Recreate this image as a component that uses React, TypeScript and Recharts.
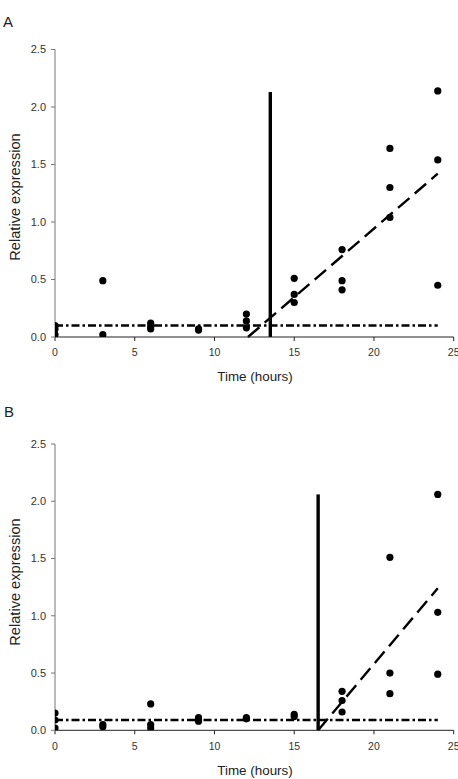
import React from 'react';
import { ComposedChart, Scatter, XAxis, YAxis, ReferenceLine } from 'recharts';

// Sampling times (hours)
const hours = [0, 3, 6, 9, 12, 15, 18, 21, 24];

// Replicate values per time point, panel A
const panelAValues: number[][] = [
  [0.1, 0.07, 0.02],
  [0.49, 0.02],
  [0.12, 0.09, 0.07],
  [0.07, 0.06],
  [0.2, 0.14, 0.08],
  [0.51, 0.37, 0.3],
  [0.76, 0.49, 0.41],
  [1.64, 1.3, 1.04],
  [2.14, 1.54, 0.45],
];

// Replicate values per time point, panel B
const panelBValues: number[][] = [
  [0.15, 0.09, 0.02],
  [0.05, 0.03],
  [0.23, 0.05, 0.02],
  [0.11, 0.09, 0.08],
  [0.11, 0.1],
  [0.14, 0.12],
  [0.34, 0.26, 0.16],
  [1.51, 0.5, 0.32],
  [2.06, 1.03, 0.49],
];

// Threshold (dash-dot), onset (solid vertical), trend (dashed)
const thresholdA = 0.1;
const onsetA = { x: 13.5, top: 2.13 };
const trendA = [
  { x: 12.1, y: 0 },
  { x: 24, y: 1.42 },
];

const thresholdB = 0.09;
const onsetB = { x: 16.5, top: 2.06 };
const trendB = [
  { x: 16.5, y: 0 },
  { x: 24, y: 1.24 },
];

const xTicks = [0, 5, 10, 15, 20, 25];
const yTicks = [0, 0.5, 1.0, 1.5, 2.0, 2.5];

const toPoints = (vals: number[][]) =>
  hours.flatMap((h, i) => vals[i].map((v) => ({ x: h, y: v })));

const Dot = (props: any) => {
  const { cx, cy } = props;
  if (cx == null || cy == null) return null;
  return <circle cx={cx} cy={cy} r={3.6} fill="#000" />;
};

type PanelProps = {
  values: number[][];
  threshold: number;
  onset: { x: number; top: number };
  trend: { x: number; y: number }[];
  marginTop: number;
  height: number;
  marginBottom: number;
};

const Panel = ({ values, threshold, onset, trend, marginTop, height, marginBottom }: PanelProps) => {
  const data = toPoints(values);
  return (
    <ComposedChart
      width={458}
      height={height}
      margin={{ top: marginTop, right: 4.3, left: 0, bottom: marginBottom }}
      style={{ fontFamily: '"Liberation Sans", Arial, sans-serif' }}
    >
      <XAxis
        type="number"
        dataKey="x"
        domain={[0, 25]}
        ticks={xTicks}
        height={30}
        tickSize={4}
        tickMargin={8}
        interval={0}
        axisLine={{ stroke: '#222', strokeWidth: 1 }}
        tickLine={{ stroke: '#222' }}
        tick={{ fontSize: 10.5, fill: '#333' }}
        allowDataOverflow
      />
      <YAxis
        type="number"
        dataKey="y"
        domain={[0, 2.5]}
        ticks={yTicks}
        width={55}
        tickSize={4}
        tickMargin={5}
        interval={0}
        axisLine={{ stroke: '#777', strokeWidth: 1 }}
        tickLine={{ stroke: '#777' }}
        tick={{ fontSize: 11, fill: '#333' }}
        tickFormatter={(v: number) => v.toFixed(1)}
        allowDataOverflow
      />
      <Scatter data={data} dataKey="y" shape={Dot} isAnimationActive={false} />
      <ReferenceLine
        segment={[
          { x: 0, y: threshold },
          { x: 24, y: threshold },
        ]}
        stroke="#000"
        strokeWidth={2.3}
        strokeDasharray="8 3 2.5 3"
      />
      <ReferenceLine
        segment={[
          { x: onset.x, y: 0 },
          { x: onset.x, y: onset.top },
        ]}
        stroke="#000"
        strokeWidth={3.4}
      />
      <ReferenceLine
        segment={trend}
        stroke="#000"
        strokeWidth={2.4}
        strokeDasharray="15 7"
      />
    </ComposedChart>
  );
};

const textBase: React.CSSProperties = {
  position: 'absolute',
  fontFamily: '"Liberation Sans", Arial, sans-serif',
  color: '#222',
  whiteSpace: 'nowrap',
  lineHeight: 1,
};

export default function App() {
  return (
    <div
      style={{
        position: 'absolute',
        left: 0,
        top: 0,
        width: 458,
        height: 779,
        overflow: 'hidden',
        background: '#fff',
      }}
    >
      <div style={{ position: 'absolute', left: 0, top: 0 }}>
        <Panel
          values={panelAValues}
          threshold={thresholdA}
          onset={onsetA}
          trend={trendA}
          marginTop={49.5}
          height={390}
          marginBottom={23}
        />
      </div>
      <div style={{ position: 'absolute', left: 0, top: 390 }}>
        <Panel
          values={panelBValues}
          threshold={thresholdB}
          onset={onsetB}
          trend={trendB}
          marginTop={54}
          height={389}
          marginBottom={18.7}
        />
      </div>

      <div style={{ ...textBase, left: 3, top: 21, fontSize: 15, transform: 'translateY(-50%)' }}>A</div>
      <div style={{ ...textBase, left: 4, top: 411, fontSize: 15, transform: 'translateY(-50%)' }}>B</div>

      <div
        style={{
          ...textBase,
          left: 15,
          top: 196.7,
          fontSize: 14.6,
          transform: 'translate(-50%, -50%) rotate(-90deg)',
        }}
      >
        Relative expression
      </div>
      <div
        style={{
          ...textBase,
          left: 15,
          top: 582,
          fontSize: 14.6,
          transform: 'translate(-50%, -50%) rotate(-90deg)',
        }}
      >
        Relative expression
      </div>

      <div style={{ ...textBase, left: 255, top: 377, fontSize: 13.4, transform: 'translate(-50%, -50%)' }}>
        Time (hours)
      </div>
      <div style={{ ...textBase, left: 255, top: 770.7, fontSize: 13.4, transform: 'translate(-50%, -50%)' }}>
        Time (hours)
      </div>
    </div>
  );
}
